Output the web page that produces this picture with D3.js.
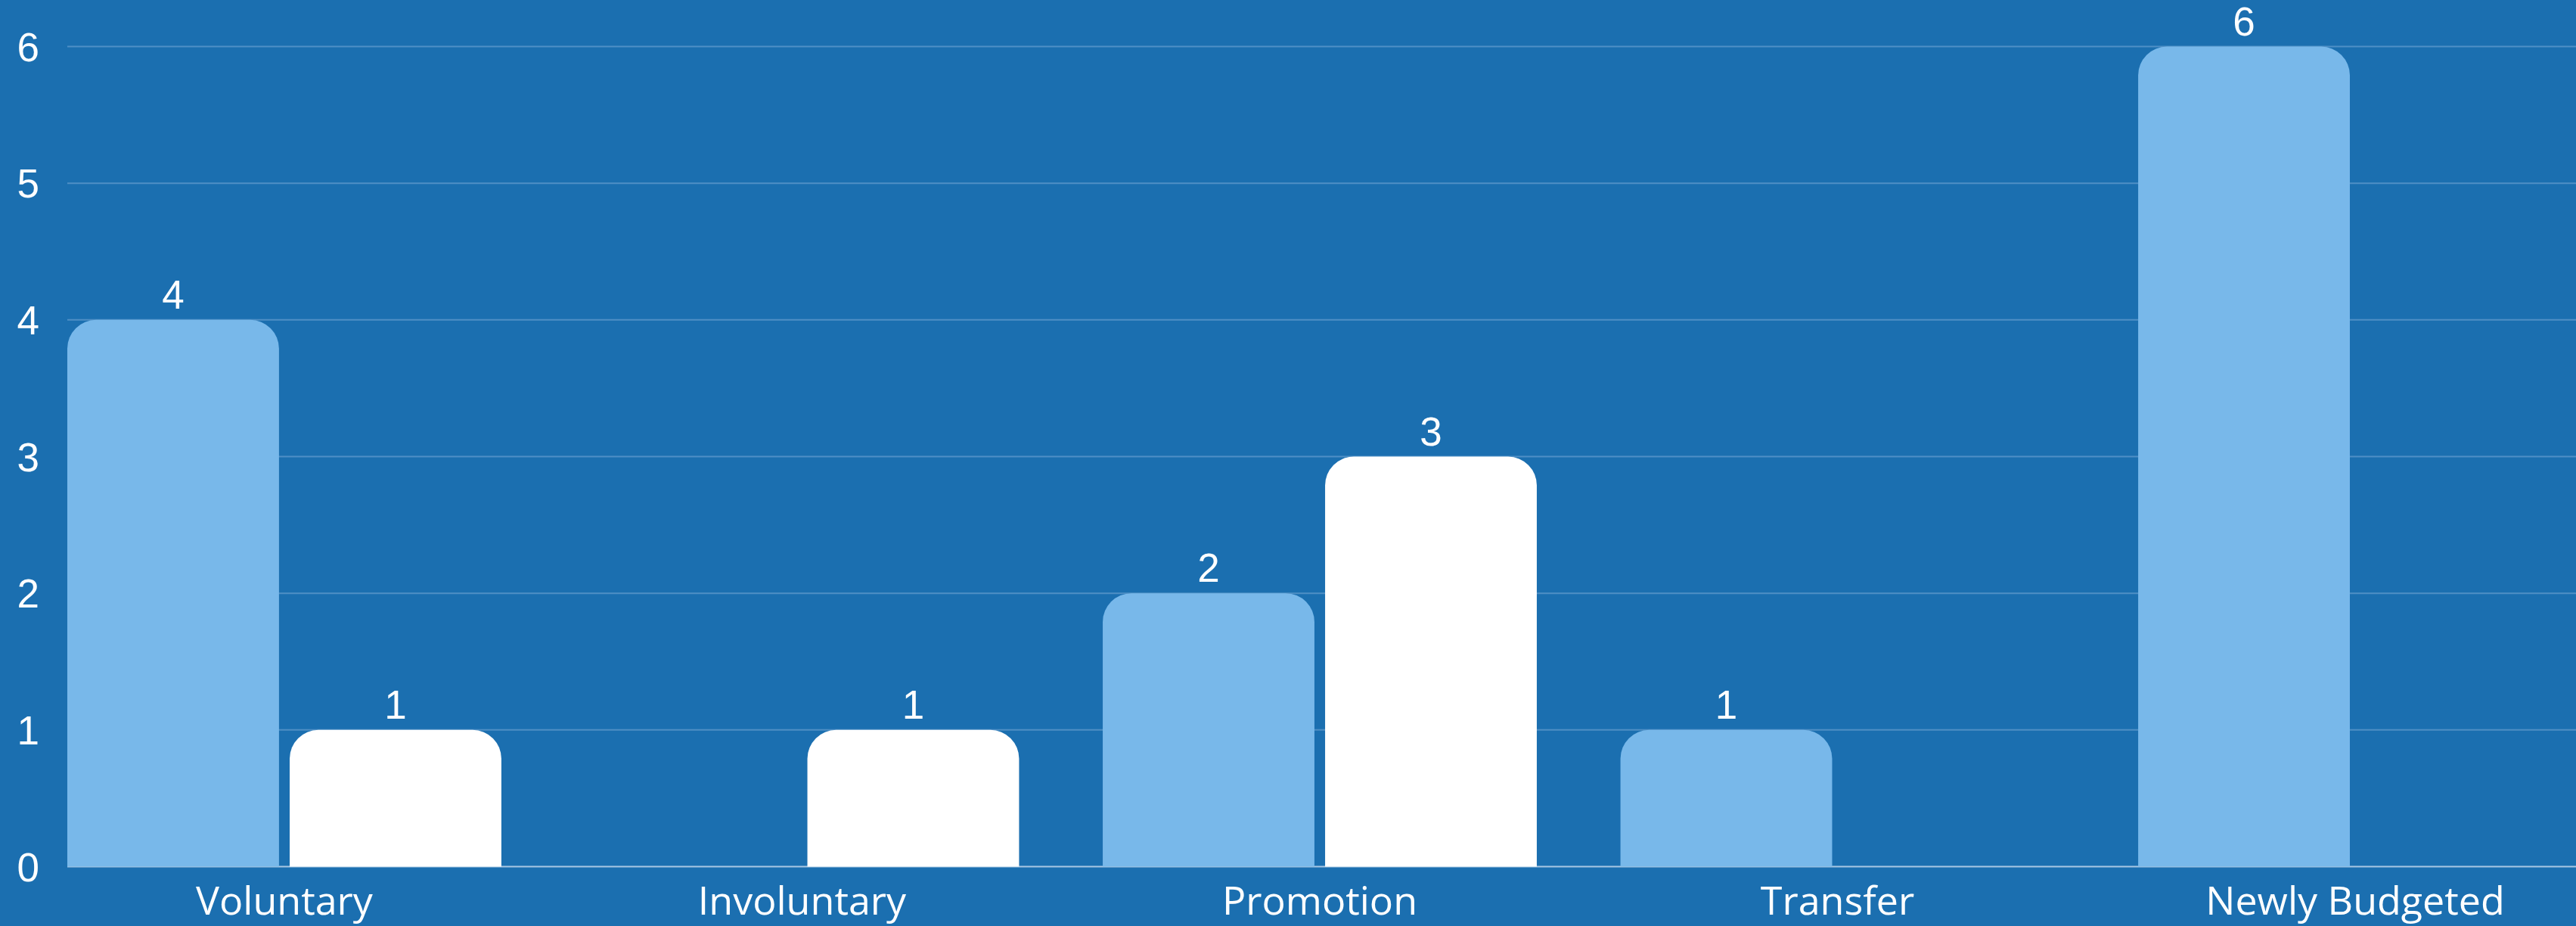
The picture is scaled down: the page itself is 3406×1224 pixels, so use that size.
<!DOCTYPE html>
<html>
<head>
<meta charset="utf-8">
<script src="https://cdn.jsdelivr.net/npm/d3@7"></script>
<style>
  html, body { margin: 0; padding: 0; background: #1b6fb0; overflow: hidden; }
  svg { display: block; }
</style>
</head>
<body>
<svg id="chart" width="3406" height="1224"></svg>
<script>
const categories = ["Voluntary", "Involuntary", "Promotion", "Transfer", "Newly Budgeted"];
const seriesNames = ["Series A", "Series B"];
const seriesA = [4, null, 2, 1, 6];
const seriesB = [1, 1, 3, null, null];
const yTicks = [0, 1, 2, 3, 4, 5, 6];
const yTickLabels = ["0", "1", "2", "3", "4", "5", "6"];

const W = 3406, H = 1224;
const plotLeft = 89, plotRight = 3406;
const svg = d3.select("#chart");

svg.append("rect").attr("width", W).attr("height", H).attr("fill", "#1b6fb0");

const y = d3.scaleLinear().domain([0, 6]).range([1145.5, 61.5]);
const x0 = d3.scaleBand().domain(categories).range([89, 3401]).paddingInner(0.1616).paddingOuter(0).align(0);
const x1 = d3.scaleBand().domain(seriesNames).range([0, x0.bandwidth()]).paddingInner(0.048);
const colors = { "Series A": "#78b8ea", "Series B": "#ffffff" };

// gridlines
svg.append("g").selectAll("line").data(yTicks).join("line")
  .attr("x1", plotLeft).attr("x2", plotRight)
  .attr("y1", d => y(d)).attr("y2", d => y(d))
  .attr("stroke", d => d === 0 ? "#a9c8e3" : "#4f8fc5")
  .attr("stroke-width", 2);

// y axis labels
const yAxis = d3.axisLeft(y).tickValues(yTicks)
  .tickFormat((d, i) => yTickLabels[i]).tickSize(0).tickPadding(0);
const yg = svg.append("g").attr("transform", "translate(52,0)").call(yAxis);
yg.select(".domain").remove();
yg.selectAll("text")
  .attr("fill", "#ffffff")
  .attr("font-family", "'Liberation Sans', Arial, sans-serif")
  .attr("font-size", 53)
  .attr("dy", "0.35em");

function roundTop(x, yTop, w, yBase, r) {
  r = Math.min(r, w / 2, yBase - yTop);
  const p = d3.path();
  p.moveTo(x, yBase);
  p.lineTo(x, yTop + r);
  p.arcTo(x, yTop, x + r, yTop, r);
  p.lineTo(x + w - r, yTop);
  p.arcTo(x + w, yTop, x + w, yTop + r, r);
  p.lineTo(x + w, yBase);
  p.closePath();
  return p.toString();
}

const data = [];
categories.forEach((c, i) => {
  if (seriesA[i] != null) data.push({ cat: c, s: "Series A", v: seriesA[i] });
  if (seriesB[i] != null) data.push({ cat: c, s: "Series B", v: seriesB[i] });
});

svg.append("g").selectAll("path").data(data).join("path")
  .attr("d", d => roundTop(x0(d.cat) + x1(d.s), y(d.v), x1.bandwidth(), y(0), 38))
  .attr("fill", d => colors[d.s]);

// value labels
svg.append("g").selectAll("text").data(data).join("text")
  .attr("x", d => x0(d.cat) + x1(d.s) + x1.bandwidth() / 2)
  .attr("y", d => y(d.v) - 15)
  .attr("text-anchor", "middle")
  .attr("fill", "#ffffff")
  .attr("font-family", "'Liberation Sans', Arial, sans-serif")
  .attr("font-size", 53)
  .text(d => d.v);

// category labels
const xAxis = d3.axisBottom(x0).tickSize(0).tickPadding(0);
const xg = svg.append("g").attr("transform", "translate(0,1209)").call(xAxis);
xg.select(".domain").remove();
xg.selectAll("text")
  .attr("fill", "#ffffff")
  .attr("font-family", "'Open Sans', 'Noto Sans', sans-serif")
  .attr("font-size", 52)
  .attr("dy", 0);
</script>
</body>
</html>
